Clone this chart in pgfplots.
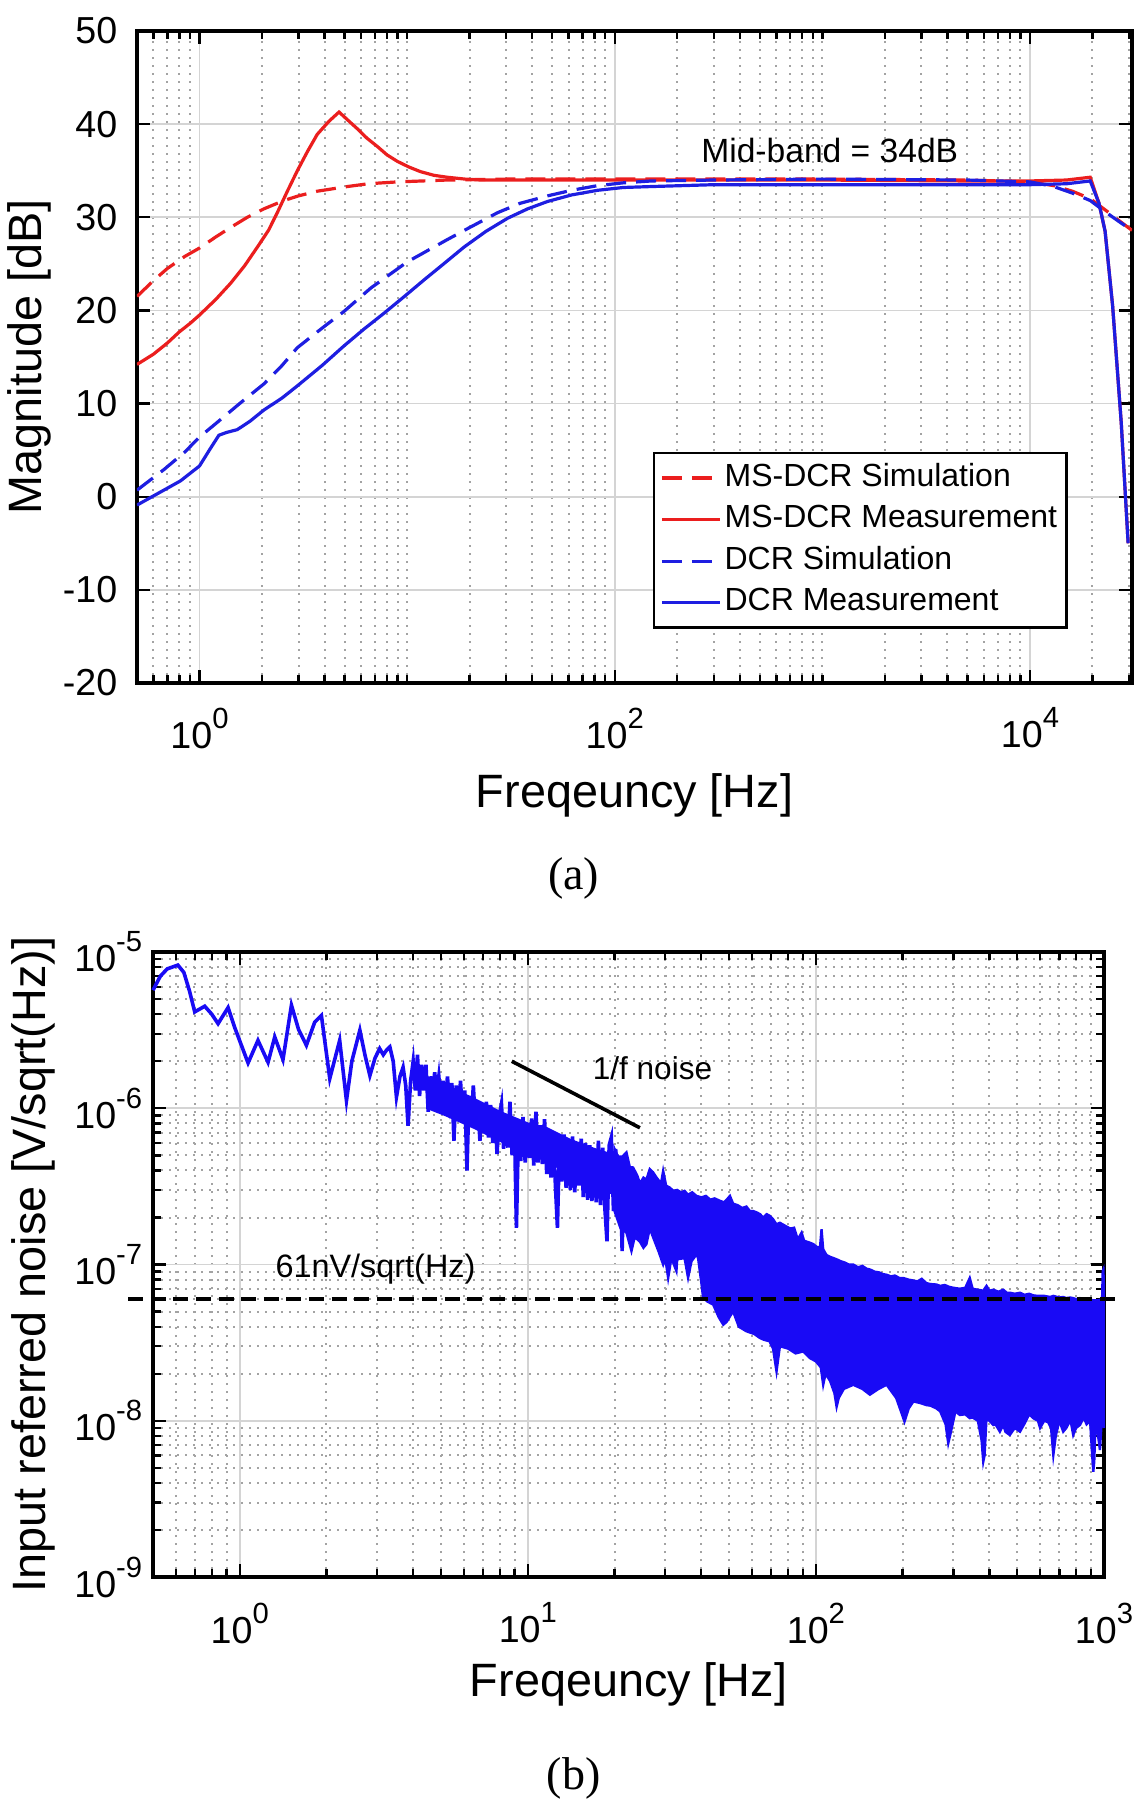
\documentclass[border=0pt]{standalone}
\usepackage{fontspec}
\setmainfont{Liberation Sans}
\newfontfamily\capfont{Liberation Serif}
\usepackage{pgfplots}
\pgfplotsset{compat=1.18}

\definecolor{mred}{RGB}{235,30,30}
\definecolor{mblue}{RGB}{30,30,225}
\definecolor{nblue}{RGB}{25,10,245}

\newcommand{\tp}[1]{10\raisebox{5pt}{\fontsize{7.3}{8}\selectfont #1}}

\pgfplotsset{
  mystyle/.style={
    scale only axis,
    axis line style={line width=0.8pt, black},
    tick style={black, line width=0.6pt},
    major tick length=3.3pt,
    minor tick length=2pt,
    tick align=inside,
    major grid style={line width=0.45pt, color=black!17},
    minor grid style={line width=0.5pt, color=black!36, dash pattern=on 0.55pt off 1.45pt},
    tick label style={font=\fontsize{9.4}{11}\selectfont, inner sep=0pt},
    label style={font=\fontsize{11.7}{14}\selectfont},
  }
}

\begin{document}
\begin{tikzpicture}
\path[use as bounding box] (0pt,0pt) rectangle (286.75pt,-450pt);

% ---------------- panel (a) ----------------
\begin{axis}[mystyle,
  at={(34.25pt,-7.75pt)}, anchor=north west,
  width=248.75pt, height=163pt,
  xmode=log, xmin=0.5, xmax=31000, ymin=-20, ymax=50,
  xtick={1,100,10000}, xticklabels={\tp{0},\tp{2},\tp{4}},
  minor xtick={0.5,0.6,0.7,0.8,0.9,2,3,4,5,6,7,8,9,10,20,30,40,50,60,70,80,90,200,300,400,500,600,700,800,900,1000,2000,3000,4000,5000,6000,7000,8000,9000,20000,30000},
  ytick={-20,-10,0,10,20,30,40,50}, yticklabels={-20,-10,0,10,20,30,40,50},
  xmajorgrids, xminorgrids, ymajorgrids,
  xticklabel style={anchor=north, yshift=-6pt},
  yticklabel style={anchor=east, xshift=-4.75pt},
  xlabel={Freqeuncy [Hz]}, ylabel={Magnitude [dB]},
  xlabel style={at={(axis description cs:0.5,-0.1718)}, anchor=center},
  ylabel style={at={(axis description cs:-0.1085,0.5)}, anchor=center},
  legend style={at={(0.5186,0.3543)}, anchor=north west, draw=black, line width=0.6pt, fill=white,
    font=\fontsize{8}{9.6}\selectfont, inner xsep=1.5pt, inner ysep=1pt,
    nodes={inner xsep=0.8pt, inner ysep=1.2pt, text height=6pt, text depth=2pt},
    cells={anchor=west}, row sep=0pt},
  legend image code/.code={\draw[#1] (0pt,0pt) -- (14.5pt,0pt);},
]
\addplot[mred, line width=0.8pt, dash pattern=on 5pt off 2.5pt] coordinates {
(0.5,21.5) (0.6,23.2) (0.7,24.5) (0.85,25.8) (1.0,26.7) (1.2,27.9) (1.41,28.9) (1.7,30.0)
(2.04,30.9) (2.55,31.8) (3.0,32.3) (3.69,32.8) (4.5,33.1) (5.15,33.3) (6.5,33.6) (8.98,33.8)
(15.6,34.0) (30,34.1) (100,34.1) (1000,34.1) (5000,34.0) (10000,33.8) (13000,33.4)
(16000,32.8) (19500,32.0) (23000,30.8) (27000,29.6) (31000,28.6)};
\addlegendentry{MS-DCR Simulation}
\addplot[mred, line width=0.8pt] coordinates {
(0.5,14.2) (0.6,15.3) (0.7,16.5) (0.8,17.7) (0.9,18.6) (1.0,19.5) (1.2,21.2) (1.41,22.9) (1.65,24.8) (1.90,26.8)
(2.15,28.6) (2.37,30.5) (2.65,32.8) (2.96,35.0) (3.3,37.0) (3.69,38.9) (4.2,40.3) (4.70,41.3)
(5.2,40.4) (5.76,39.5) (6.4,38.5) (7.19,37.6) (8.0,36.7) (8.98,36.0) (10.2,35.4) (11.6,34.9)
(13.5,34.5) (15.6,34.3) (19,34.1) (22.7,34.0) (50,34.0) (200,34.0) (1000,34.0) (5000,33.9)
(10000,33.9) (15000,34.0) (19500,34.3) (21500,31.5) (23000,28.5) (25000,20.5) (27500,8.0) (29700,-5.0)};
\addlegendentry{MS-DCR Measurement}
\addplot[mblue, line width=0.8pt, dash pattern=on 5pt off 2.5pt] coordinates {
(0.5,0.7) (0.673,2.9) (0.85,4.8) (1.0,6.4) (1.22,8.0) (1.58,10.1) (2.04,12.1) (2.5,14.1)
(2.96,16.0) (4.0,18.3) (4.97,19.9) (6.68,22.4) (10,25.2) (15.6,27.6) (20,28.9) (27.3,30.5)
(35,31.5) (47.5,32.3) (62,32.9) (82.8,33.4) (110,33.7) (150,33.9) (300,34.0) (1000,34.1)
(5000,34.0) (10000,33.8) (13000,33.3) (16000,32.6) (19500,31.8) (23000,30.6) (27000,29.5) (31000,28.6)};
\addlegendentry{DCR Simulation}
\addplot[mblue, line width=0.8pt] coordinates {
(0.5,-0.9) (0.673,0.7) (0.81,1.7) (1.0,3.3) (1.13,5.2) (1.24,6.6) (1.35,6.9) (1.52,7.2)
(1.75,8.1) (2.04,9.3) (2.5,10.6) (2.96,11.9) (3.9,14.1) (4.97,16.2) (6.2,18.0) (7.74,19.7)
(9.7,21.5) (12.1,23.3) (15.0,25.0) (18.8,26.8) (24,28.5) (30.5,29.9) (38,30.9) (47.5,31.7)
(62,32.4) (82.8,32.9) (110,33.2) (150,33.3) (300,33.5) (1000,33.5) (5000,33.5) (10000,33.5)
(15000,33.6) (19500,33.9) (21500,31.5) (23000,28.5) (25000,20.5) (27500,8.0) (29700,-5.0)};
\addlegendentry{DCR Measurement}
\node[anchor=west, inner sep=0pt, font=\fontsize{8.4}{10}\selectfont] at (axis cs:259,37.2) {Mid-band = 34dB};
\end{axis}

\node[font=\capfont\fontsize{11.5}{13}\selectfont] at (143.4pt,-219.5pt) {(a)};

% ---------------- panel (b) ----------------
\begin{axis}[mystyle,
  at={(38.25pt,-238pt)}, anchor=north west,
  width=237.75pt, height=156.25pt,
  xmode=log, ymode=log, xmin=0.5, xmax=1000, ymin=1e-9, ymax=1e-5,
  xtick={1,10,100,1000}, xticklabels={\tp{0},\tp{1},\tp{2},\tp{3}},
  minor xtick={0.5,0.6,0.7,0.8,0.9,2,3,4,5,6,7,8,9,20,30,40,50,60,70,80,90,200,300,400,500,600,700,800,900},
  ytick={1e-9,1e-8,1e-7,1e-6,1e-5}, yticklabels={\tp{-9},\tp{-8},\tp{-7},\tp{-6},\tp{-5}},
  minor ytick={2e-9,3e-9,4e-9,5e-9,6e-9,7e-9,8e-9,9e-9,2e-8,3e-8,4e-8,5e-8,6e-8,7e-8,8e-8,9e-8,2e-7,3e-7,4e-7,5e-7,6e-7,7e-7,8e-7,9e-7,2e-6,3e-6,4e-6,5e-6,6e-6,7e-6,8e-6,9e-6},
  xmajorgrids, xminorgrids, ymajorgrids, yminorgrids,
  xticklabel style={anchor=north, yshift=-6.2pt},
  yticklabel style={anchor=east, xshift=-2.5pt},
  xlabel={Freqeuncy [Hz]}, ylabel={Input referred noise [V/sqrt(Hz)]},
  xlabel style={at={(axis description cs:0.5,-0.1712)}, anchor=center},
  ylabel style={at={(axis description cs:-0.126,0.5)}, anchor=center},
  clip=false,
]
% core of the trace 4.5 Hz - 22 Hz
\addplot[nblue, fill=nblue, line width=0.5pt] coordinates {
(4.5,1.5e-6) (5.2,1.4e-6) (6.5,1.15e-6) (8,9.5e-7) (10,8.0e-7) (11.6,7.5e-7) (14,6.3e-7) (17,5.5e-7) (20,5.0e-7) (22,4.6e-7)
(22,2.5e-7) (20,2.8e-7) (17,3.2e-7) (14,3.8e-7) (11.6,4.6e-7) (10,5.2e-7) (8,6.2e-7) (6.5,7.5e-7) (5.2,9.0e-7) (4.5,1.0e-6)
} -- cycle;
% dense band 20 Hz - 1 kHz
\addplot[nblue, fill=nblue, line width=0.6pt] coordinates {
(20.0,5.5e-7) (20.9,4.6e-7) (21.5,5.0e-7) (22.0,5.22e-7) (22.6,4.2e-7) (23.2,4.18e-7) (24.0,3.7e-7)
(24.5,3.3e-7) (25.2,3.6e-7) (25.8,3.5e-7) (26.5,4.08e-7) (27.2,3.9e-7) (28.0,3.6e-7) (29.0,3.3e-7)
(29.5,3.98e-7) (30.2,3.2e-7) (31.1,3.11e-7) (32.0,2.96e-7) (33.0,3.0e-7) (34.0,2.9e-7) (35.0,2.96e-7)
(36.0,2.8e-7) (37.2,2.9e-7) (38.5,2.75e-7) (40.1,2.69e-7) (41.5,2.75e-7) (43.0,2.6e-7) (44.5,2.65e-7)
(46.4,2.56e-7) (48.0,2.5e-7) (49.0,2.6e-7) (50.3,2.75e-7) (51.6,2.45e-7) (53.5,2.4e-7) (55.5,2.3e-7)
(57.4,2.35e-7) (59.0,2.2e-7) (60.6,2.2e-7) (62.5,2.15e-7) (64.0,2.1e-7) (65.6,2.0e-7) (67.5,2.1e-7)
(69.2,2.05e-7) (71.0,1.95e-7) (73.0,1.81e-7) (75.0,1.85e-7) (77.0,1.8e-7) (79.1,1.75e-7) (81.5,1.7e-7)
(84.0,1.72e-7) (86.5,1.45e-7) (89.2,1.6e-7) (91.0,1.42e-7) (93.0,1.4e-7) (95.3,1.38e-7) (98.0,1.35e-7)
(100.5,1.3e-7) (103.3,1.28e-7) (104.6,1.68e-7) (106,1.25e-7) (108.9,1.15e-7) (112,1.12e-7) (115,1.1e-7)
(118,1.08e-7) (122,1.05e-7) (126,1.03e-7) (130,1.0e-7) (134.8,1.0e-7) (140,9.6e-8) (145,9.8e-8)
(150,9.4e-8) (154,9.3e-8) (160,9.0e-8) (166,8.9e-8) (170,8.7e-8) (176,8.6e-8) (182,8.4e-8) (188,8.5e-8)
(195,8.2e-8) (201,8.2e-8) (210,8.0e-8) (218,7.9e-8) (225,7.8e-8) (233,8.1e-8) (242,7.6e-8) (250,7.5e-8)
(262,7.45e-8) (270,7.3e-8) (280,7.4e-8) (290,7.2e-8) (300,7.1e-8) (316,7.0e-8) (330,7.1e-8) (342,8.2e-8)
(350,7.0e-8) (365,6.9e-8) (381,6.8e-8) (391,7.3e-8) (400,6.8e-8) (413,6.9e-8) (430,6.7e-8) (447,6.9e-8)
(460,6.6e-8) (472,6.6e-8) (490,6.5e-8) (511,6.6e-8) (530,6.4e-8) (550,6.5e-8) (568,6.35e-8) (590,6.3e-8)
(620,6.3e-8) (650,6.2e-8) (667,6.3e-8) (700,6.15e-8) (722,6.2e-8) (740,6.1e-8) (762,6.15e-8) (782,6.1e-8)
(800,6.0e-8) (825,6.1e-8) (850,5.95e-8) (880,6.0e-8) (918,5.9e-8) (950,5.9e-8) (968,5.95e-8) (985,6.0e-8)
(990,9.1e-8) (995,9.3e-8) (1000,7.0e-8)
(1000,9.0e-9) (985,1.1e-8) (968,6.5e-9) (950,8.5e-9) (935,1.0e-8) (925,5.5e-9) (918,4.72e-9) (910,6.0e-9)
(895,1.0e-8) (870,9.5e-9) (850,1.05e-8) (825,9.4e-9) (800,9.0e-9) (782,8.11e-9) (770,9.5e-9) (762,1.0e-8)
(740,9.0e-9) (722,8.52e-9) (700,1.0e-8) (680,8.0e-9) (667,6.03e-9) (655,9.0e-9) (640,9.8e-9) (620,1.0e-8)
(600,9.0e-9) (590,1.0e-8) (568,1.04e-8) (550,1.1e-8) (530,9.6e-9) (511,8.52e-9) (490,9.0e-9) (471,8.11e-9)
(455,8.5e-9) (447,9.4e-9) (435,8.52e-9) (420,9.5e-9) (413,9.4e-9) (400,1.0e-8) (391,1.04e-8) (385,6.0e-9)
(381,5.47e-9) (376,7.5e-9) (365,1.0e-8) (350,1.05e-8) (342,1.04e-8) (330,1.1e-8) (316,1.09e-8) (305,1.15e-8)
(300,1.0e-8) (292,8.0e-9) (288,7.17e-9) (282,9.5e-9) (270,1.15e-8) (262,1.2e-8) (250,1.25e-8) (242,1.26e-8)
(230,1.3e-8) (218,1.33e-8) (210,1.2e-8) (203,9.88e-9) (199,1.1e-8) (190,1.4e-8) (176,1.7e-8) (165,1.6e-8)
(154,1.47e-8) (145,1.6e-8) (134.8,1.7e-8) (125,1.6e-8) (120,1.4e-8) (118,1.23e-8) (116,1.5e-8) (112,1.8e-8)
(108,2.0e-8) (106,1.7e-8) (104,2.2e-8) (100,2.4e-8) (95.3,2.52e-8) (90.4,2.78e-8) (85,2.7e-8) (80,2.9e-8)
(75,3.0e-8) (73,2.07e-8) (71,2.9e-8) (69,3.23e-8) (66,3.3e-8) (63.9,3.39e-8) (61,3.6e-8) (57.4,3.74e-8)
(54,4.0e-8) (51.6,5.02e-8) (49,4.3e-8) (47.7,4.12e-8) (46,4.6e-8) (44.0,5.54e-8) (42,5.8e-8) (40.6,6.12e-8)
(40.1,7.45e-8) (39,1.1e-7) (38.5,1.16e-7) (37,1.05e-7) (36.0,8.23e-8) (35,1.1e-7) (33,1.08e-7) (32.8,9.08e-8)
(31.5,1.1e-7) (30.7,8.2e-8) (30,1.1e-7) (29.5,1.0e-7) (28.5,1.2e-7) (27.2,1.5e-7) (26.5,1.7e-7) (25.8,1.35e-7)
(25.2,1.28e-7) (24.5,1.4e-7) (23.5,1.5e-7) (22.9,1.22e-7) (22.0,1.6e-7) (21.0,1.7e-7) (20.0,2.2e-7)
} -- cycle;
% line 0.5 Hz - 22 Hz
\addplot[nblue, line width=0.9pt] coordinates {
(0.50,5.7e-6) (0.53,7.0e-6) (0.56,7.8e-6) (0.61,8.25e-6) (0.64,7.4e-6) (0.67,5.6e-6) (0.698,4.14e-6)
(0.756,4.5e-6) (0.80,4.0e-6) (0.841,3.48e-6) (0.911,4.41e-6) (0.96,3.3e-6) (1.069,1.95e-6) (1.157,2.72e-6)
(1.254,1.97e-6) (1.323,2.86e-6) (1.413,2.05e-6) (1.512,4.57e-6) (1.60,3.2e-6) (1.704,2.53e-6) (1.821,3.56e-6)
(1.921,3.93e-6) (2.054,1.55e-6) (2.223,2.72e-6) (2.347,1.12e-6) (2.45,2.0e-6) (2.612,3.16e-6) (2.72,2.2e-6)
(2.83,1.62e-6) (2.95,2.1e-6) (3.06,2.41e-6) (3.15,2.2e-6) (3.23,2.35e-6) (3.32,2.47e-6) (3.41,2.0e-6)
(3.50,1.18e-6) (3.60,1.6e-6) (3.69,1.83e-6) (3.77,1.4e-6) (3.84,7.74e-7) (3.92,1.5e-6)
(4.00,2.0e-6) (4.07,1.3e-6) (4.14,2.2e-6) (4.21,1.2e-6) (4.28,1.9e-6) (4.36,1.3e-6) (4.43,1.9e-6)
(4.51,9.5e-7) (4.59,1.6e-6) (4.67,1.2e-6) (4.75,1.7e-6) (4.83,1.25e-6) (4.91,1.6e-6) (5.00,1.1e-6)
(5.08,1.5e-6) (5.17,1.0e-6) (5.26,1.6e-6) (5.35,1.1e-6) (5.45,1.45e-6) (5.54,6.2e-7) (5.64,1.4e-6)
(5.74,9.0e-7) (5.84,1.5e-6) (5.94,8.5e-7) (6.04,1.3e-6) (6.15,4.0e-7) (6.25,1.2e-6) (6.36,8.0e-7)
(6.47,1.4e-6) (6.59,7.5e-7) (6.70,1.1e-6) (6.82,6.2e-7) (6.94,1.0e-6) (7.06,7.0e-7) (7.18,1.1e-6)
(7.30,6.5e-7) (7.43,1.05e-6) (7.56,6.0e-7) (7.69,9.5e-7) (7.82,5.1e-7) (7.96,9.0e-7) (8.10,1.07e-6)
(8.24,5.5e-7) (8.38,9.0e-7) (8.53,5.6e-7) (8.67,1.1e-6) (8.82,5.0e-7) (8.98,8.5e-7) (9.13,1.72e-7)
(9.29,8.0e-7) (9.45,4.6e-7) (9.62,8.8e-7) (9.79,4.5e-7) (9.96,8.0e-7) (10.13,4.8e-7) (10.31,8.6e-7)
(10.49,4.3e-7) (10.67,9.5e-7) (10.85,4.5e-7) (11.04,7.8e-7) (11.23,4.4e-7) (11.43,8.5e-7) (11.63,3.8e-7)
(11.83,7.2e-7) (12.03,3.6e-7) (12.24,7.0e-7) (12.46,3.3e-7) (12.67,1.72e-7) (12.89,6.5e-7) (13.12,3.4e-7)
(13.35,6.8e-7) (13.58,3.1e-7) (13.81,6.2e-7) (14.05,3.0e-7) (14.30,6.6e-7) (14.55,2.9e-7) (14.80,6.0e-7)
(15.06,3.2e-7) (15.32,6.4e-7) (15.58,2.7e-7) (15.85,6.0e-7) (16.13,2.6e-7) (16.41,5.8e-7) (16.69,2.55e-7)
(16.98,5.5e-7) (17.28,2.5e-7) (17.58,6.2e-7) (17.88,2.4e-7) (18.20,5.6e-7) (18.51,2.3e-7) (18.83,1.41e-7)
(19.16,5.8e-7) (19.49,6.5e-7) (19.83,2.2e-7) (20.18,5.5e-7) (20.53,2.1e-7) (20.89,5.0e-7) (21.25,1.22e-7)
(21.62,4.8e-7) (22.0,2.2e-7)};
\addplot[black, line width=1pt, dash pattern=on 3.75pt off 1.9pt] coordinates {(0.41,6.0e-8) (1136,6.0e-8)};
\addplot[black, line width=0.9pt] coordinates {(8.8,2.0e-6) (24.5,7.5e-7)};
\node[anchor=west, inner sep=0pt, font=\fontsize{7.9}{9.5}\selectfont] at (axis cs:16.7,1.81e-6) {1/f noise};
\node[anchor=west, inner sep=0pt, font=\fontsize{8.1}{9.7}\selectfont] at (axis cs:1.323,9.33e-8) {61nV/sqrt(Hz)};
\end{axis}

\node[font=\capfont\fontsize{11.5}{13}\selectfont] at (143.4pt,-444.5pt) {(b)};
\end{tikzpicture}
\end{document}
